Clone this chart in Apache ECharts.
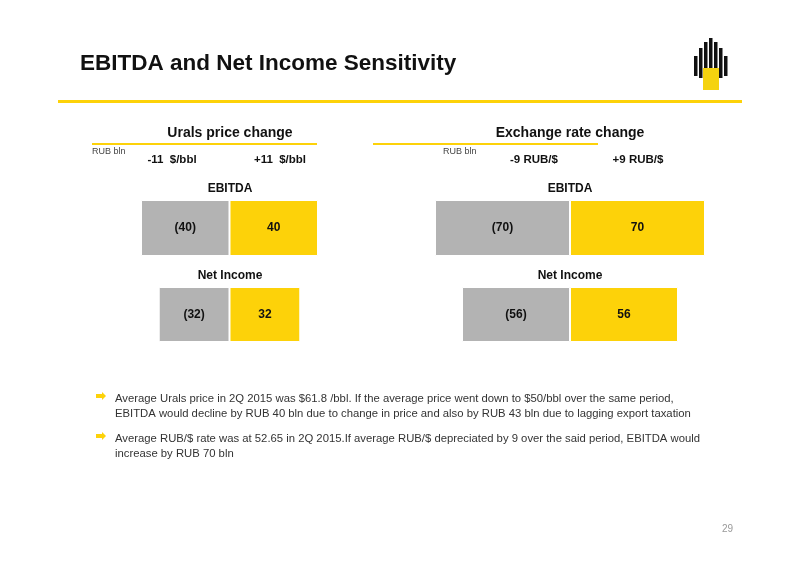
<!DOCTYPE html>
<html><head><meta charset="utf-8">
<script src="https://cdn.jsdelivr.net/npm/echarts@6/dist/echarts.min.js"></script>
<style>html,body{margin:0;background:#fff}#main{width:800px;height:566px}</style>
</head><body><div id="main"></div>
<script>
var panels = ['Urals price change', 'Exchange rate change'];
var colLabels = [['-11  $/bbl', '+11  $/bbl'], ['-9 RUB/$', '+9 RUB/$']];
var ebitda = [40, 70];
var netIncome = [32, 56];
var pageNo = '29';
var bullets = [
  'Average Urals price in 2Q 2015 was $61.8 /bbl. If the average price went down to $50/bbl over the same period,\nEBITDA would decline by RUB 40 bln due to change in price and also by RUB 43 bln due to lagging export taxation',
  'Average RUB/$ rate was at 52.65 in 2Q 2015.If average RUB/$ depreciated by 9 over the said period, EBITDA would\nincrease by RUB 70 bln'
];

var grey = '#b3b3b3', yellow = '#fdd209';
var gridDefs = [
  {left: 141, width: 177, top: 200, height: 56, max: ebitda[0], v: ebitda[0]},
  {left: 141, width: 177, top: 287, height: 55, max: ebitda[0], v: netIncome[0]},
  {left: 435, width: 270, top: 200, height: 56, max: ebitda[1], v: ebitda[1]},
  {left: 435, width: 270, top: 287, height: 55, max: ebitda[1], v: netIncome[1]}
];
var grid = [], xAxis = [], yAxis = [], series = [];
gridDefs.forEach(function (g, i) {
  grid.push({left: g.left, width: g.width, top: g.top, height: g.height});
  xAxis.push({type: 'value', gridIndex: i, min: -g.max, max: g.max, show: false});
  yAxis.push({type: 'category', gridIndex: i, data: ['x'], show: false});
  [[-g.v, grey], [g.v, yellow]].forEach(function (p) {
    series.push({
      type: 'bar', xAxisIndex: i, yAxisIndex: i, stack: 's' + i, barWidth: '100%',
      data: [p[0]], itemStyle: {color: p[1], borderColor: '#fff', borderWidth: 1},
      silent: true,
      label: {show: true, position: 'inside', fontFamily: 'Liberation Sans', fontWeight: 'bold',
        fontSize: 12, color: '#111',
        formatter: function (d) { return d.value < 0 ? '(' + (-d.value) + ')' : '' + d.value; }}
    });
  });
});

var T = function (x, y, s, o) {
  return {type: 'text', left: x, top: y, style: Object.assign({text: s, fontFamily: 'Liberation Sans', fill: '#111', fontSize: 12}, o || {})};
};
var graphic = [
  T(80, 52, 'EBITDA and Net Income Sensitivity', {fontSize: 22.5, fontWeight: 'bold'}),
  {type: 'rect', shape: {x: 58, y: 100, width: 684, height: 3}, style: {fill: yellow}},
  {type: 'rect', shape: {x: 92, y: 143, width: 225, height: 2}, style: {fill: yellow}},
  {type: 'rect', shape: {x: 373, y: 143, width: 225, height: 2}, style: {fill: yellow}},
  T(92, 147, 'RUB bln', {fontSize: 9, fill: '#444'}),
  T(443, 147, 'RUB bln', {fontSize: 9, fill: '#444'}),
  T(722, 524, pageNo, {fontSize: 10, fill: '#999'})
];
var centers = [230, 570], heads = [[172, 280], [534, 638]];
panels.forEach(function (p, i) {
  graphic.push({type: 'text', x: centers[i], y: 126, style: {text: p, textAlign: 'center', fontFamily: 'Liberation Sans', fontWeight: 'bold', fontSize: 14, fill: '#111'}});
  graphic.push({type: 'text', x: heads[i][0], y: 154, style: {text: colLabels[i][0], textAlign: 'center', fontFamily: 'Liberation Sans', fontWeight: 'bold', fontSize: 11.5, fill: '#111'}});
  graphic.push({type: 'text', x: heads[i][1], y: 154, style: {text: colLabels[i][1], textAlign: 'center', fontFamily: 'Liberation Sans', fontWeight: 'bold', fontSize: 11.5, fill: '#111'}});
  graphic.push({type: 'text', x: centers[i], y: 183, style: {text: 'EBITDA', textAlign: 'center', fontFamily: 'Liberation Sans', fontWeight: 'bold', fontSize: 12, fill: '#111'}});
  graphic.push({type: 'text', x: centers[i], y: 270, style: {text: 'Net Income', textAlign: 'center', fontFamily: 'Liberation Sans', fontWeight: 'bold', fontSize: 12, fill: '#111'}});
});
bullets.forEach(function (b, i) {
  var y = 391 + i * 40;
  graphic.push({type: 'polygon', shape: {points: [[96, y + 3], [102, y + 3], [102, y + 1], [106, y + 5], [102, y + 9], [102, y + 7], [96, y + 7]]}, style: {fill: yellow}});
  graphic.push(T(115, y, b, {fontSize: 11.3, fill: '#333', lineHeight: 15}));
});
// logo
var lx = 694, ly = 38;
[[0, 18, 20], [5, 10, 30], [10, 4, 36], [15, 0, 40], [20, 4, 36], [25, 10, 30], [30, 18, 20]].forEach(function (c) {
  graphic.push({type: 'rect', shape: {x: lx + c[0], y: ly + c[1], width: 3.5, height: c[2]}, style: {fill: '#111'}});
});
graphic.push({type: 'rect', shape: {x: lx + 9, y: ly + 30, width: 16, height: 22}, style: {fill: '#f5d30f'}});

var chart = echarts.init(document.getElementById('main'));
chart.setOption({animation: false, backgroundColor: '#fff', grid: grid, xAxis: xAxis, yAxis: yAxis, series: series, graphic: graphic});
</script></body></html>
